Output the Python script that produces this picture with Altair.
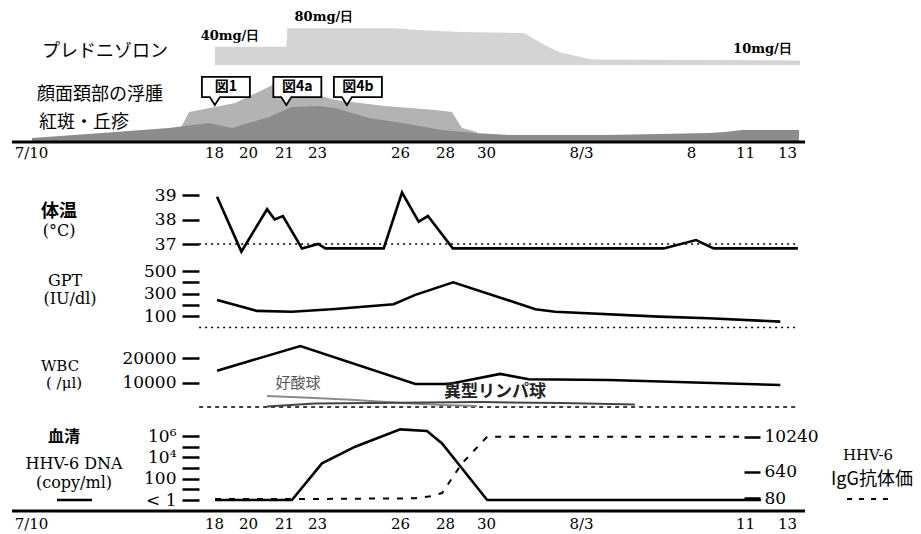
import math
import altair as alt
import pandas as pd

# ---------------- data (x = days after 7/10) ----------------
axis_top_days = [0, 8, 10, 11, 13, 16, 18, 20, 24, 29, 32, 34]
axis_top_labels = ["7/10", "18", "20", "21", "23", "26", "28", "30", "8/3", "8", "11", "13"]
axis_bot_days = [0, 8, 10, 11, 13, 16, 18, 20, 24, 32, 34]
axis_bot_labels = ["7/10", "18", "20", "21", "23", "26", "28", "30", "8/3", "11", "13"]

pred_day = [8.06, 11.14, 11.2, 15.8, 17.0, 18.8, 21.6, 22.4, 23.1, 24.5, 34.62]
pred_dose = [40, 40, 80, 80, 76, 72, 70, 45, 28, 12, 10]
dose_label = ["40mg/日", "80mg/日", "10mg/日"]
dose_label_day = [8.94, 13.25, 32.83]
dose_label_dose = [40, 80, 10]

edema_day = [6.5, 6.91, 9.24, 10.86, 12.39, 13.65, 15.46, 17.56, 18.34, 18.83, 19.56]
edema_level = [12, 30, 39, 60, 50, 42, 36, 32, 30, 14, 10]
eryth_day = [0.04, 3.1, 6.03, 7.78, 9.06, 10.58, 11.48, 13.07, 13.65, 14.88, 16.09,
             17.87, 19.46, 21.0, 25.18, 30.0, 30.89, 31.83, 34.57]
eryth_level = [4, 9, 14, 19, 14, 25, 35, 36, 34, 24, 19, 12, 9, 7, 7, 9, 10, 12, 12]

callout_label = ["図1", "図4a", "図4b"]
callout_day = [8.05, 11.14, 14.08]

temp_day = [8.18, 9.61, 10.53, 10.74, 10.97, 12.09, 13.04, 13.3, 15.41, 16.09, 16.83,
            17.24, 18.38, 27.76, 29.28, 30.26, 34.52]
temp_val = [38.93, 36.69, 38.42, 38.0, 38.14, 36.82, 37.0, 36.82, 36.82, 39.1, 37.91,
            38.14, 36.82, 36.82, 37.16, 36.82, 36.82]
temp_ticks = [37, 38, 39]

gpt_day = [8.18, 10.25, 11.48, 13.66, 15.77, 16.68, 18.4, 22.08, 22.91, 27.53, 29.98, 33.68]
gpt_val = [244, 147, 140, 164, 206, 289, 400, 162, 140, 96, 82, 52]
gpt_ticks = [100, 200, 300, 400, 500]
gpt_tick_labels = ["100", "", "300", "", "500"]

wbc_day = [8.18, 11.99, 16.68, 18.18, 18.75, 20.6, 21.79, 25.26, 33.68]
wbc_val = [14800, 24900, 9400, 9400, 10300, 13500, 11300, 11000, 9000]
wbc_ticks = [10000, 20000]
eos_day = [10.53, 12.88, 14.38, 16.09, 17.87, 19.56]
eos_val = [4500, 3700, 2900, 1600, 800, 400]
atyp_day = [10.53, 12.88, 19.8, 23.2, 26.45]
atyp_val = [200, 1400, 2000, 1600, 1000]
wbc_note = ["好酸球", "異型リンパ球"]
wbc_note_day = [11.85, 20.38]
wbc_note_val = [9800, 6100]

dna_day = [8.06, 11.48, 13.18, 14.38, 16.01, 17.2, 17.87, 20.05, 32.76]
dna_val = [1, 1, 2750, 1.0e5, 4.2e6, 2.9e6, 2.0e5, 1, 1]
dna_ticks = [1, 10, 100, 1000, 10000, 100000, 1000000]
dna_tick_labels = ["< 1", "", "100", "", "10⁴", "", "10⁶"]
igg_day = [8.06, 11.48, 16.68, 17.42, 17.87, 18.83, 20.05, 31.93]
igg_val = [75, 75, 80, 96, 121, 1260, 10240, 10240]
igg_ticks = [80, 640, 10240]

titles_top = ["プレドニゾロン", "顔面頚部の浮腫", "紅斑・丘疹"]
title_temp = ["体温", "(°C)"]
title_gpt = ["GPT", "(IU/dl)"]
title_wbc = ["WBC", "( /μl)"]
title_dna = ["血清", "HHV-6 DNA", "(copy/ml)"]
title_igg = ["HHV-6", "IgG抗体価"]

# ---------------- layout ----------------
SERIF = "DejaVu Serif"
JP = "Noto Sans CJK JP"
W = 793
H1, H2, H3, H4, H5 = 134, 116, 75, 82, 96
X_PIX = [19, 202, 236, 272, 305, 388, 433, 474, 569, 679, 733, 775]

xscale = alt.Scale(domain=axis_top_days, range=X_PIX, nice=False, zero=False)


def label_expr(values, labels):
    expr = "''"
    for v, l in reversed(list(zip(values, labels))):
        expr = f"datum.value == {v} ? '{l}' : ({expr})"
    return expr


def x_axis(values, labels, pad):
    return alt.Axis(values=values, labelExpr=label_expr(values, labels), orient="bottom",
                    domain=False, ticks=False, grid=False, labelFont=SERIF, labelFontSize=15,
                    labelColor="black", labelPadding=pad, labelOverlap=False, labelFlush=False,
                    title=None)


def X(axis=None):
    return alt.X("day:Q", scale=xscale, axis=axis)


def lin_domain(v1, p1, v2, p2, h):
    k = (v2 - v1) / (p1 - p2)
    return [v1 - k * (h - p1), v1 + k * p1]


def log_domain(v1, p1, v2, p2, h):
    a, b = math.log10(v1), math.log10(v2)
    k = (b - a) / (p1 - p2)
    return [10 ** (a - k * (h - p1)), 10 ** (a + k * p1)]


def y_axis(values, labels=None, offset=-187, orient="left", tick=17, pad=6):
    kw = dict(values=values, orient=orient, offset=offset, domain=False, grid=False,
              tickSize=tick, tickWidth=2.5, tickColor="black", labelFont=SERIF,
              labelFontSize=17, labelColor="black", labelPadding=pad, labelOverlap=False,
              labelFlush=False, title=None, format="d")
    if labels is not None:
        kw["labelExpr"] = label_expr(values, labels)
    return alt.Axis(**kw)


def txt(s, x, y, size, font=JP, weight="normal", align="center", color="black"):
    return alt.Chart(pd.DataFrame({"t": [s]})).mark_text(
        align=align, baseline="middle", fontSize=size, font=font, fontWeight=weight,
        color=color).encode(text="t:N", x=alt.value(x), y=alt.value(y))


def hline(y, x0=0, x1=W, width=3, dash=None):
    kw = dict(color="black", strokeWidth=width)
    if dash:
        kw["strokeDash"] = dash
    return alt.Chart(pd.DataFrame({"a": [0]})).mark_rule(**kw).encode(
        x=alt.value(x0), x2=alt.value(x1), y=alt.value(y))


def baseline(v, scale, dash=(2, 4)):
    return alt.Chart(pd.DataFrame({"day": [7.35], "day2": [34.5], "v": [v]})).mark_rule(
        color="black", strokeWidth=1.3, strokeDash=list(dash)).encode(
        x=X(), x2="day2:Q", y=alt.Y("v:Q", scale=scale, axis=None))


def panel(*layers, w=W, h=100):
    return alt.layer(*layers).resolve_scale(x="independent", y="independent").properties(
        width=w, height=h)


# ---------------- panel 1: prednisolone / skin ----------------
pred_scale = alt.Scale(domain=lin_domain(0, 57, 80, 20.3, H1), nice=False, zero=False)
sev_scale = alt.Scale(domain=[0, H1], nice=False, zero=False)

pred = alt.Chart(pd.DataFrame({"day": pred_day, "dose": pred_dose})).mark_area(
    color="#d4d4d4").encode(x=X(), y=alt.Y("dose:Q", scale=pred_scale, axis=None))
dose_txt = alt.Chart(pd.DataFrame({"day": dose_label_day, "dose": dose_label_dose,
                                   "label": dose_label})).mark_text(
    font=SERIF, fontSize=13, fontWeight="bold", dy=-11, color="black").encode(
    x=X(), y=alt.Y("dose:Q", scale=pred_scale, axis=None), text="label:N")
edema = alt.Chart(pd.DataFrame({"day": edema_day, "lv": edema_level})).mark_area(
    color="#b3b3b3").encode(x=X(), y=alt.Y("lv:Q", scale=sev_scale, axis=None))
eryth = alt.Chart(pd.DataFrame({"day": eryth_day, "lv": eryth_level})).mark_area(
    color="#8c8c8c").encode(x=X(x_axis(axis_top_days, axis_top_labels, 3)),
                            y=alt.Y("lv:Q", scale=sev_scale, axis=None))
CALLOUT = "M-0.54,-0.42L1.46,-0.42L1.46,0.42L0.21,0.42L0,0.75L-0.21,0.42L-0.54,0.42Z"
cdf = pd.DataFrame({"day": callout_day, "label": callout_label})
callout_box = alt.Chart(cdf).mark_point(
    shape=CALLOUT, size=2304, filled=True, fill="white", stroke="black", strokeWidth=1.8,
    opacity=1).encode(x=X(), y=alt.value(79))
callout_txt = alt.Chart(cdf).mark_text(font=JP, fontSize=14, fontWeight="bold", dx=11,
                                       color="black").encode(
    x=X(), y=alt.value(79), text="label:N")

p1 = panel(
    pred, edema, eryth, dose_txt, callout_box, callout_txt,
    txt(titles_top[0], 30, 44, 18, align="left"),
    txt(titles_top[1], 25, 87, 18, align="left"),
    txt(titles_top[2], 27, 115, 18, align="left"),
    hline(H1),
    h=H1)

# ---------------- panel 2: temperature ----------------
t_scale = alt.Scale(domain=lin_domain(37, 102, 39, 53, H2), nice=False, zero=False)
temp = alt.Chart(pd.DataFrame({"day": temp_day, "v": temp_val})).mark_line(
    color="black", strokeWidth=2.6).encode(
    x=X(), y=alt.Y("v:Q", scale=t_scale, axis=y_axis(temp_ticks)))
p2 = panel(
    baseline(37, t_scale), temp,
    txt(title_temp[0], 47, 70, 18, weight="bold"),
    txt(title_temp[1], 47, 89, 16, font=SERIF),
    h=H2)

# ---------------- panel 3: GPT ----------------
g_scale = alt.Scale(domain=lin_domain(0, 69.5, 500, 13, H3), nice=False, zero=False)
gpt = alt.Chart(pd.DataFrame({"day": gpt_day, "v": gpt_val})).mark_line(
    color="black", strokeWidth=2.6).encode(
    x=X(), y=alt.Y("v:Q", scale=g_scale, axis=y_axis(gpt_ticks, gpt_tick_labels)))
p3 = panel(
    baseline(0, g_scale), gpt,
    txt(title_gpt[0], 53, 23, 16, font=SERIF),
    txt(title_gpt[1], 58, 41, 16, font=SERIF),
    h=H3)

# ---------------- panel 4: WBC ----------------
w_scale = alt.Scale(domain=lin_domain(0, 74, 20000, 25, H4), nice=False, zero=False)
wbc = alt.Chart(pd.DataFrame({"day": wbc_day, "v": wbc_val})).mark_line(
    color="black", strokeWidth=2.6).encode(
    x=X(), y=alt.Y("v:Q", scale=w_scale, axis=y_axis(wbc_ticks)))
eos = alt.Chart(pd.DataFrame({"day": eos_day, "v": eos_val})).mark_line(
    color="#8a8a8a", strokeWidth=2).encode(x=X(), y=alt.Y("v:Q", scale=w_scale, axis=None))
atyp = alt.Chart(pd.DataFrame({"day": atyp_day, "v": atyp_val})).mark_line(
    color="#444444", strokeWidth=2).encode(x=X(), y=alt.Y("v:Q", scale=w_scale, axis=None))
note0 = alt.Chart(pd.DataFrame({"day": wbc_note_day[:1], "v": wbc_note_val[:1],
                                "t": wbc_note[:1]})).mark_text(
    font=JP, fontSize=15, color="#555555").encode(
    x=X(), y=alt.Y("v:Q", scale=w_scale, axis=None), text="t:N")
note1 = alt.Chart(pd.DataFrame({"day": wbc_note_day[1:], "v": wbc_note_val[1:],
                                "t": wbc_note[1:]})).mark_text(
    font=JP, fontSize=17, fontWeight="bold", color="#222222").encode(
    x=X(), y=alt.Y("v:Q", scale=w_scale, axis=None), text="t:N")
p4 = panel(
    baseline(0, w_scale, (4, 4)), eos, atyp, wbc, note0, note1,
    txt(title_wbc[0], 48, 33, 15, font=SERIF),
    txt(title_wbc[1], 52, 50, 15, font=SERIF),
    h=H4)

# ---------------- panel 5: HHV-6 ----------------
d_scale = alt.Scale(type="log", domain=log_domain(1, 85, 1e6, 21, H5), nice=False)
i_scale = alt.Scale(type="log", domain=log_domain(80, 83.3, 10240, 21.7, H5), nice=False)
dna = alt.Chart(pd.DataFrame({"day": dna_day, "v": dna_val})).mark_line(
    color="black", strokeWidth=2.6).encode(
    x=X(x_axis(axis_bot_days, axis_bot_labels, 5)),
    y=alt.Y("v:Q", scale=d_scale, axis=y_axis(dna_ticks, dna_tick_labels)))
igg = alt.Chart(pd.DataFrame({"day": igg_day, "v": igg_val})).mark_line(
    color="black", strokeWidth=2, strokeDash=[6, 8]).encode(
    x=X(), y=alt.Y("v:Q", scale=i_scale,
                   axis=y_axis(igg_ticks, offset=-61, orient="right", tick=16, pad=4)))
p5 = panel(
    dna, igg,
    txt(title_dna[0], 52, 22, 16, weight="bold"),
    txt(title_dna[1], 62, 49, 16, font=SERIF),
    txt(title_dna[2], 62, 68, 16, font=SERIF),
    hline(85, 45, 80, 2.5),
    txt(title_igg[0], 856, 40, 15, font=SERIF),
    txt(title_igg[1], 860, 65, 18),
    hline(84, 835, 880, 2, [5, 7]),
    hline(H5),
    h=H5)

chart = alt.vconcat(p1, p2, p3, p4, p5, spacing=0, bounds="flush").properties(
    padding={"left": 2, "top": 0, "right": 0, "bottom": 0}
).configure_view(strokeWidth=0)

chart.save("out.html", embed_options={"renderer": "svg", "actions": False})
